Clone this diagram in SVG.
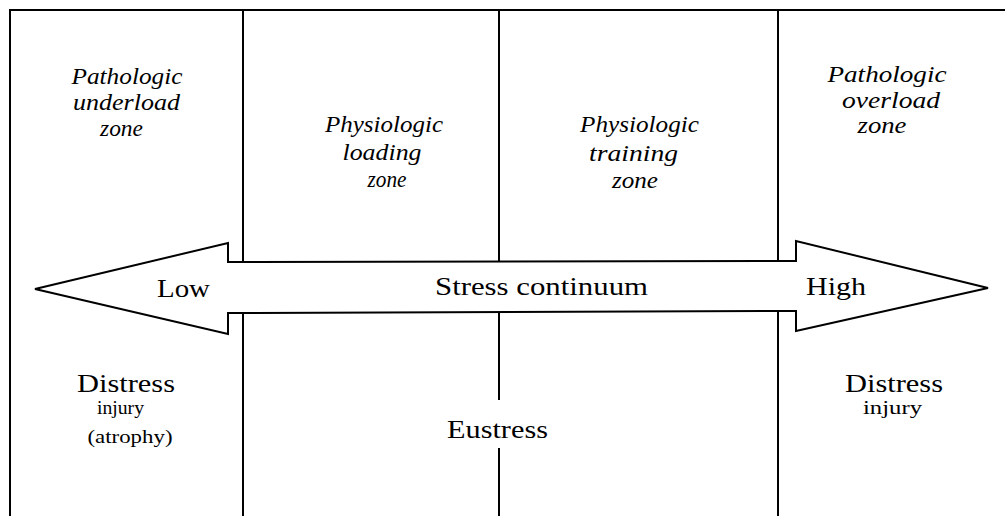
<svg xmlns="http://www.w3.org/2000/svg" width="1005" height="516" viewBox="0 0 1005 516">
<style>
.ln{stroke:#000;stroke-width:2;fill:none}
.zone{font-family:"Liberation Serif",serif;font-style:italic;font-size:23px;fill:#000;text-anchor:middle}
.big{font-family:"Liberation Serif",serif;font-size:26px;fill:#000;text-anchor:middle}
.sm{font-family:"Liberation Serif",serif;font-size:18px;fill:#000;text-anchor:middle}
</style>
<rect width="1005" height="516" fill="#fff"/>
<g id="connectors">
<line class="ln" x1="9" y1="10" x2="1005" y2="10"/>
<line class="ln" x1="10" y1="9" x2="10" y2="516"/>
<line class="ln" x1="243" y1="10" x2="243" y2="516"/>
<line class="ln" x1="499" y1="10" x2="499" y2="400"/>
<line class="ln" x1="499" y1="448" x2="499" y2="516"/>
<line class="ln" x1="778" y1="10" x2="778" y2="516"/>
</g>
<g id="arrow">
<polygon points="35,289 228,243 228,262 796,261 796,241 988,288 796,331 796,311 228,313 228,334" fill="#fff" stroke="#000" stroke-width="2" stroke-linejoin="miter"/>
<text class="big" x="183.5" y="297" textLength="53" lengthAdjust="spacingAndGlyphs">Low</text>
<text class="big" x="541.5" y="295" textLength="213" lengthAdjust="spacingAndGlyphs">Stress continuum</text>
<text class="big" x="836" y="295" textLength="60" lengthAdjust="spacingAndGlyphs">High</text>
</g>
<g id="underload">
<text class="zone" x="127" y="84" textLength="111" lengthAdjust="spacingAndGlyphs">Pathologic</text>
<text class="zone" x="126.5" y="110" textLength="107" lengthAdjust="spacingAndGlyphs">underload</text>
<text class="zone" x="121.5" y="136" textLength="43" lengthAdjust="spacingAndGlyphs">zone</text>
</g>
<g id="loading">
<text class="zone" x="384" y="132" textLength="118" lengthAdjust="spacingAndGlyphs">Physiologic</text>
<text class="zone" x="382" y="160" textLength="79" lengthAdjust="spacingAndGlyphs">loading</text>
<text class="zone" x="387" y="187" textLength="39" lengthAdjust="spacingAndGlyphs">zone</text>
</g>
<g id="training">
<text class="zone" x="639.5" y="132" textLength="119" lengthAdjust="spacingAndGlyphs">Physiologic</text>
<text class="zone" x="633.5" y="161" textLength="89" lengthAdjust="spacingAndGlyphs">training</text>
<text class="zone" x="635" y="188" textLength="46" lengthAdjust="spacingAndGlyphs">zone</text>
</g>
<g id="overload">
<text class="zone" x="887" y="82" textLength="119" lengthAdjust="spacingAndGlyphs">Pathologic</text>
<text class="zone" x="891" y="108" textLength="98" lengthAdjust="spacingAndGlyphs">overload</text>
<text class="zone" x="882" y="133" textLength="49" lengthAdjust="spacingAndGlyphs">zone</text>
</g>
<g id="distress-low">
<text class="big" x="126" y="392" textLength="98" lengthAdjust="spacingAndGlyphs">Distress</text>
<text class="sm" x="120.5" y="414" textLength="47" lengthAdjust="spacingAndGlyphs">injury</text>
<text class="sm" x="130" y="443" textLength="85" lengthAdjust="spacingAndGlyphs">(atrophy)</text>
</g>
<g id="eustress">
<text class="big" x="497.5" y="438" textLength="101" lengthAdjust="spacingAndGlyphs">Eustress</text>
</g>
<g id="distress-high">
<text class="big" x="894" y="392" textLength="98" lengthAdjust="spacingAndGlyphs">Distress</text>
<text class="sm" x="892.5" y="414" textLength="59" lengthAdjust="spacingAndGlyphs">injury</text>
</g>
</svg>
